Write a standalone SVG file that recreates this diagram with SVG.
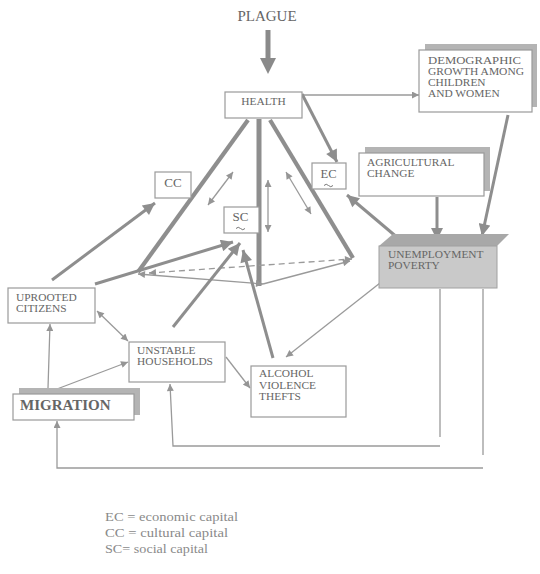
<svg xmlns="http://www.w3.org/2000/svg" width="540" height="574" viewBox="0 0 540 574">
<defs>
<style>
.box{fill:#fff;stroke:#9a9a9a;stroke-width:1.2}
.shadow{fill:#b4b4b4;stroke:none}
.t{font-family:"Liberation Serif","Times New Roman",serif;font-size:11.4px;fill:#666}
.thin{fill:none;stroke:#9a9a9a;stroke-width:1.3}
.thick{fill:none;stroke:#8e8e8e;stroke-width:3}
.edge{fill:none;stroke:#8e8e8e;stroke-width:4.2}
.dash{fill:none;stroke:#9a9a9a;stroke-width:1.3;stroke-dasharray:6 4}
.leg{font-family:"Liberation Serif","Times New Roman",serif;font-size:13.5px;fill:#8a8a8a}
.sym{font-family:"Liberation Serif","Times New Roman",serif;fill:#666}
.tilde{fill:none;stroke:#777;stroke-width:1}
</style>
<marker id="a" viewBox="0 0 10 10" refX="10" refY="5" markerWidth="9" markerHeight="7" markerUnits="userSpaceOnUse" orient="auto-start-reverse"><path d="M0,0L10,5L0,10z" fill="#959595"/></marker>
<marker id="b" viewBox="0 0 10 10" refX="10" refY="5" markerWidth="14" markerHeight="12" markerUnits="userSpaceOnUse" orient="auto-start-reverse"><path d="M0,0L10,5L0,10z" fill="#8e8e8e"/></marker>
</defs>
<rect width="540" height="574" fill="#fff"/>

<g id="plague">
<text x="267" y="21" text-anchor="middle" class="sym" font-size="15">PLAGUE</text>
<path d="M268,30V59" stroke="#8a8a8a" stroke-width="5" fill="none"/>
<path d="M260,58L276,58L268,74z" fill="#8a8a8a"/>
</g>

<g id="connectors">
<!-- pyramid -->
<path class="edge" d="M248,120L138,272"/>
<path class="edge" d="M270,120L353,258"/>
<path d="M259,119V286" stroke="#8e8e8e" stroke-width="5" fill="none"/>
<path class="dash" d="M149,273L352,259" marker-start="url(#a)" marker-end="url(#a)"/>
<path class="thin" d="M263,284L138,274" marker-start="url(#a)" marker-end="url(#a)"/>
<path class="thin" d="M263,284L350,261" marker-end="url(#a)"/>
<path class="thin" d="M208,205L233,172" marker-start="url(#a)" marker-end="url(#a)"/>
<path class="thin" d="M268,180V232" marker-start="url(#a)" marker-end="url(#a)"/>
<path class="thin" d="M286,172L311,214" marker-start="url(#a)" marker-end="url(#a)"/>
<!-- health -->
<path class="thin" d="M302,95H419" marker-end="url(#a)"/>
<path class="thick" d="M302,94L337,162" marker-end="url(#b)"/>
<!-- unemployment & co -->
<path class="thick" d="M405,244L347,195" marker-end="url(#b)"/>
<path class="thick" d="M437,197V240" marker-end="url(#b)"/>
<path class="thick" d="M508,115L482,236" marker-end="url(#b)"/>
<path class="thin" d="M380,283L286,357" marker-end="url(#a)"/>
<!-- into capitals -->
<path class="thick" d="M52,280L155,203" marker-end="url(#b)"/>
<path class="thick" d="M95,284L233,242" marker-end="url(#b)"/>
<path class="thick" d="M173,327L240,243" marker-end="url(#b)"/>
<path class="thick" d="M273,358L243,250" marker-end="url(#b)"/>
<!-- lower -->
<path class="thin" d="M97,311L128,341" marker-start="url(#a)" marker-end="url(#a)"/>
<path class="thin" d="M48,388L50,324" marker-end="url(#a)"/>
<path class="thin" d="M57,389L128,362" marker-end="url(#a)"/>
<path class="thin" d="M226,357L250,388" marker-end="url(#a)"/>
<!-- feedback -->
<path class="thin" d="M440,289V437"/>
<path class="thin" d="M440,446H173L170,384" marker-end="url(#a)"/>
<path class="thin" d="M483,289V455"/>
<path class="thin" d="M483,468H57V421" marker-end="url(#a)"/>
</g>

<g id="health">
<rect class="box" x="225" y="92" width="77" height="26"/>
<text class="t" x="263.5" y="105" text-anchor="middle">HEALTH</text>
</g>

<g id="demographic">
<rect class="shadow" x="425" y="44" width="112" height="63"/>
<rect class="box" x="419" y="50" width="113" height="62"/>
<text class="t" x="428" y="64" textLength="93" lengthAdjust="spacingAndGlyphs">DEMOGRAPHIC</text>
<text class="t" x="428" y="75" textLength="96" lengthAdjust="spacingAndGlyphs">GROWTH AMONG</text>
<text class="t" x="428" y="86">CHILDREN</text>
<text class="t" x="428" y="97">AND WOMEN</text>
</g>

<g id="agricultural">
<rect class="shadow" x="365" y="147" width="125" height="44"/>
<rect class="box" x="359" y="153" width="125" height="43"/>
<text class="t" x="367" y="166">AGRICULTURAL</text>
<text class="t" x="367" y="177">CHANGE</text>
</g>

<g id="unemployment">
<path d="M379,246L393,234H509L497,246z" fill="#a8a8a8"/>
<rect x="379" y="246" width="118" height="42" fill="#c9c9c9" stroke="#a0a0a0" stroke-width="1"/>
<text class="t" x="388" y="258">UNEMPLOYMENT</text>
<text class="t" x="388" y="269">POVERTY</text>
</g>

<g id="cc">
<rect class="box" x="155" y="172" width="36" height="26"/>
<text x="173" y="187" text-anchor="middle" class="sym" font-size="13">CC</text>
</g>

<g id="ec">
<rect class="box" x="312" y="163" width="34" height="26"/>
<text x="328.5" y="178" text-anchor="middle" class="sym" font-size="12.5">EC</text>
<path class="tilde" d="M324,185.5q2.2,-2.5 4.5,0t4.5,0"/>
</g>

<g id="sc">
<rect class="box" x="224" y="207" width="35" height="26"/>
<text x="240.5" y="221" text-anchor="middle" class="sym" font-size="13">SC</text>
<path class="tilde" d="M236,228.5q2.2,-2.5 4.5,0t4.5,0"/>
</g>

<g id="uprooted">
<rect class="box" x="8" y="288" width="87" height="35"/>
<text class="t" x="16" y="301">UPROOTED</text>
<text class="t" x="16" y="312">CITIZENS</text>
</g>

<g id="unstable">
<rect class="box" x="129" y="342" width="96" height="40"/>
<text class="t" x="137" y="354">UNSTABLE</text>
<text class="t" x="137" y="365">HOUSEHOLDS</text>
</g>

<g id="alcohol">
<rect class="box" x="251" y="366" width="95" height="51"/>
<text class="t" x="259" y="377">ALCOHOL</text>
<text class="t" x="259" y="389">VIOLENCE</text>
<text class="t" x="259" y="400">THEFTS</text>
</g>

<g id="migration">
<rect class="shadow" x="19" y="388" width="121" height="27"/>
<rect class="box" x="13" y="394" width="121" height="26"/>
<text x="20" y="410" class="sym" font-size="15" font-weight="bold" fill="#777">MIGRATION</text>
</g>

<g id="legend">
<text class="leg" x="105" y="521" textLength="133" lengthAdjust="spacingAndGlyphs">EC = economic capital</text>
<text class="leg" x="105" y="537" textLength="123" lengthAdjust="spacingAndGlyphs">CC = cultural capital</text>
<text class="leg" x="105" y="553" textLength="103" lengthAdjust="spacingAndGlyphs">SC= social capital</text>
</g>
</svg>
